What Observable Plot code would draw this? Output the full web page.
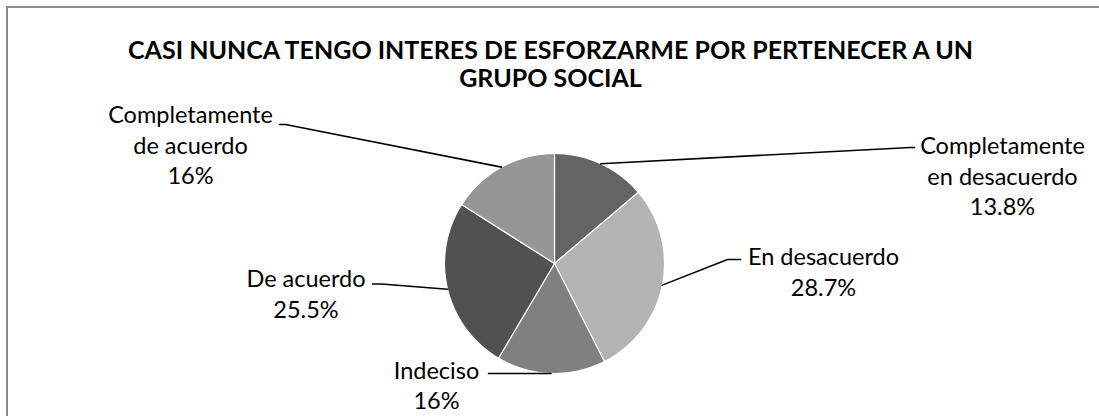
<!DOCTYPE html>
<html><head><meta charset="utf-8">
<script src="https://cdn.jsdelivr.net/npm/d3@7"></script>
<script src="https://cdn.jsdelivr.net/npm/@observablehq/plot@0.6"></script>
<style>
html,body{margin:0;padding:0;background:#fff;}
#wrap{position:relative;width:1099px;height:416px;overflow:hidden;}
#border{position:absolute;left:6px;top:6px;width:1300px;height:700px;border:2px solid #8c8c8c;box-sizing:border-box;}
#chart{position:absolute;left:0;top:0;}
</style></head><body>
<div id="wrap"><div id="border"></div><div id="chart"></div></div>
<script>
// ---- data ----
const title = "CASI NUNCA TENGO INTERES DE ESFORZARME POR PERTENECER A UN\nGRUPO SOCIAL";
const categories = ["Completamente en desacuerdo", "En desacuerdo", "Indeciso", "De acuerdo", "Completamente de acuerdo"];
const labelNames = ["Completamente\nen desacuerdo", "En desacuerdo", "Indeciso", "De acuerdo", "Completamente\nde acuerdo"];
const values = [13.8, 28.7, 16, 25.5, 16];

// ---- style / layout ----
const sliceColors = ["#646464", "#b3b3b3", "#808080", "#515151", "#969696"];
const W = 1099, H = 416, CX = 554, CY = 263, RPX = 110;
const FONT = "Lato, 'Open Sans', sans-serif";
const FS = 23.5;
// label block centre (px) and leader elbow/end (px)
const labelLayout = [
  {x: 1002, y: 174.5, elbow: [910, 147], end: [914, 147]},
  {x: 823,  y: 270,   elbow: [727, 259], end: [740, 259]},
  {x: 436,  y: 383.5, elbow: [492, 373], end: [488, 373]},
  {x: 305.5,y: 292,   elbow: [381, 283.5], end: [372, 283.5]},
  {x: 190,  y: 143.5, elbow: [285, 124], end: [279, 124]}
];
const toU = ([px, py]) => [(px - CX) / RPX, (CY - py) / RPX];

const rows = categories.map((c, i) => ({name: c, label: labelNames[i], value: values[i]}));
const arcs = d3.pie().sort(null).value(d => d.value).startAngle(0).endAngle(2 * Math.PI)(rows);

const slicePts = arcs.flatMap(a => {
  const name = a.data.name;
  const pts = [{name, x: 0, y: 0}];
  const n = Math.max(2, Math.ceil((a.endAngle - a.startAngle) / (Math.PI / 360)));
  for (let i = 0; i <= n; i++) {
    const ang = a.startAngle + (a.endAngle - a.startAngle) * i / n;
    pts.push({name, x: Math.sin(ang), y: Math.cos(ang)});
  }
  return pts;
});

const leaderPts = arcs.flatMap((a, i) => {
  const mid = (a.startAngle + a.endAngle) / 2;
  const L = labelLayout[i];
  const e = toU(L.elbow), t = toU(L.end);
  return [
    {k: i, x: Math.sin(mid), y: Math.cos(mid)},
    {k: i, x: e[0], y: e[1]},
    {k: i, x: t[0], y: t[1]}
  ];
});

const labels = arcs.map((a, i) => {
  const [ux, uy] = toU([labelLayout[i].x, labelLayout[i].y]);
  return {x: ux, y: uy, text: `${a.data.label}\n${a.data.value}%`};
});

const chart = Plot.plot({
  width: W, height: H,
  margin: 0,
  x: {domain: [-CX / RPX, (W - CX) / RPX], axis: null},
  y: {domain: [-(H - CY) / RPX, CY / RPX], axis: null},
  color: {type: "ordinal", domain: categories, range: sliceColors},
  style: {background: "transparent", fontFamily: FONT},
  marks: [
    Plot.line(slicePts, {x: "x", y: "y", z: "name", fill: "name", stroke: "white", strokeWidth: 1.2, curve: "linear-closed"}),
    Plot.line(leaderPts, {x: "x", y: "y", z: "k", stroke: "black", strokeWidth: 1.6}),
    Plot.text(labels, {x: "x", y: "y", text: "text", fontSize: FS, lineHeight: 1.3, fill: "black", fontFamily: FONT}),
    Plot.text([title], {frameAnchor: "top", dx: 0.5, dy: 39, lineAnchor: "top", lineHeight: 1.12, fontWeight: "bold", fontSize: 25, fill: "black", fontFamily: FONT})
  ]
});
document.getElementById("chart").appendChild(chart);
</script>
</body></html>
